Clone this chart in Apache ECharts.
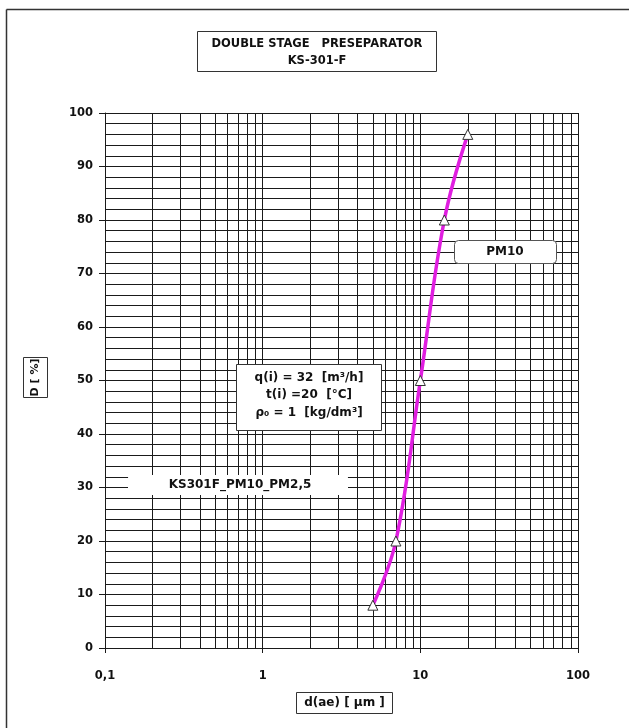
<!DOCTYPE html>
<html><head><meta charset="utf-8">
<script src="https://cdn.jsdelivr.net/npm/echarts@6/dist/echarts.min.js"></script>
<style>html,body{margin:0;padding:0;background:#fff}#c{width:629px;height:728px}</style>
</head><body><div id="c"></div>
<script>
const diameters = [5, 7, 10, 14.2, 20];
const passPct = [8, 20, 50, 80, 96];
const xTickLabels = {0.1: '0,1', 1: '1', 10: '10', 100: '100'};
const minorLogLines = [0.2,0.3,0.4,0.5,0.6,0.7,0.8,0.9,2,3,4,5,6,7,8,9,20,30,40,50,60,70,80,90];
const titleLines = ['DOUBLE STAGE   PRESEPARATOR', 'KS-301-F'];
const paramLines = ['q(i) = 32  [m³/h]', 't(i) =20  [°C]', 'ρ₀ = 1  [kg/dm³]'];
const seriesName = 'PM10';
const fileName = 'KS301F_PM10_PM2,5';

const F = '"DejaVu Sans", Verdana, sans-serif';
const gridColor = '#1a1a1a';
const chart = echarts.init(document.getElementById('c'), null, {renderer: 'canvas'});
chart.setOption({
  animation: false,
  backgroundColor: '#fff',
  grid: {left: 105, right: 51, top: 113, bottom: 80, containLabel: false},
  xAxis: {
    type: 'log', logBase: 10, min: 0.1, max: 100,
    axisLine: {show: false},
    axisTick: {show: true, length: 5, lineStyle: {color: gridColor}},
    axisLabel: {margin: 22, fontFamily: F, fontWeight: 'bold', fontSize: 11.5, color: '#111',
      formatter: v => xTickLabels[Math.round(v*1000)/1000] !== undefined ? xTickLabels[Math.round(v*1000)/1000] : ''},
    splitLine: {show: true, lineStyle: {color: gridColor, width: 1}},
    minorTick: {show: false}
  },
  yAxis: {
    type: 'value', min: 0, max: 100, interval: 10,
    axisLine: {show: true, lineStyle: {color: gridColor, width: 1}},
    axisTick: {show: true, length: 6, lineStyle: {color: gridColor}},
    axisLabel: {margin: 12, fontFamily: F, fontWeight: 'bold', fontSize: 11.5, color: '#111'},
    splitLine: {show: true, lineStyle: {color: gridColor, width: 1}},
    minorTick: {show: false, splitNumber: 5},
    minorSplitLine: {show: true, lineStyle: {color: gridColor, width: 1}}
  },
  series: [{
    name: seriesName,
    type: 'line',
    smooth: 0.4,
    data: diameters.map((d, i) => [d, passPct[i]]),
    lineStyle: {color: '#e01ee0', width: 3.5},
    symbol: 'triangle', symbolSize: 10,
    itemStyle: {color: '#fff', borderColor: '#333', borderWidth: 1},
    z: 5,
    markLine: {
      silent: true, symbol: 'none', label: {show: false},
      lineStyle: {color: gridColor, width: 1, type: 'solid'},
      data: minorLogLines.map(v => ({xAxis: v})),
      z: 1
    }
  }],
  graphic: [
    {type: 'line', shape: {x1: 6.5, y1: 728, x2: 6.5, y2: 9.5}, style: {stroke: '#333', lineWidth: 1.5}},
    {type: 'line', shape: {x1: 6.5, y1: 9.5, x2: 629, y2: 9.5}, style: {stroke: '#333', lineWidth: 1.5}},
    {type: 'rect', shape: {x: 197.5, y: 31.5, width: 239, height: 40}, style: {fill: '#fff', stroke: '#333', lineWidth: 1}},
    {type: 'text', x: 317, y: 44, style: {text: titleLines[0], fontFamily: F, fontWeight: 'bold', fontSize: 11.5, fill: '#111', align: 'center', verticalAlign: 'middle'}},
    {type: 'text', x: 317, y: 61, style: {text: titleLines[1], fontFamily: F, fontWeight: 'bold', fontSize: 11.5, fill: '#111', align: 'center', verticalAlign: 'middle'}},
    {type: 'rect', z: 10, shape: {x: 454.5, y: 240.5, width: 102, height: 23, r: 4}, style: {fill: '#fff', stroke: '#555', lineWidth: 1}},
    {type: 'text', z: 11, x: 505, y: 252, style: {text: seriesName, fontFamily: F, fontWeight: 'bold', fontSize: 12, fill: '#111', align: 'center', verticalAlign: 'middle'}},
    {type: 'rect', z: 10, shape: {x: 236.5, y: 364.5, width: 145, height: 66}, style: {fill: '#fff', stroke: '#333', lineWidth: 1}},
    {type: 'text', z: 11, x: 309, y: 378, style: {text: paramLines[0], fontFamily: F, fontWeight: 'bold', fontSize: 12, fill: '#111', align: 'center', verticalAlign: 'middle'}},
    {type: 'text', z: 11, x: 309, y: 395, style: {text: paramLines[1], fontFamily: F, fontWeight: 'bold', fontSize: 12, fill: '#111', align: 'center', verticalAlign: 'middle'}},
    {type: 'text', z: 11, x: 309, y: 413, style: {text: paramLines[2], fontFamily: F, fontWeight: 'bold', fontSize: 12, fill: '#111', align: 'center', verticalAlign: 'middle'}},
    {type: 'rect', z: 10, shape: {x: 128, y: 475, width: 220, height: 20, r: 3}, style: {fill: '#fff', stroke: 'none'}},
    {type: 'text', z: 11, x: 240, y: 485, style: {text: fileName, fontFamily: F, fontWeight: 'bold', fontSize: 12, fill: '#111', align: 'center', verticalAlign: 'middle'}},
    {type: 'rect', z: 10, shape: {x: 23.5, y: 357.5, width: 24, height: 40}, style: {fill: '#fff', stroke: '#333', lineWidth: 1}},
    {type: 'text', z: 11, x: 35.5, y: 377.5, rotation: Math.PI/2, style: {text: 'D [ %]', fontFamily: F, fontWeight: 'bold', fontSize: 11, fill: '#111', align: 'center', verticalAlign: 'middle'}},
    {type: 'rect', z: 10, shape: {x: 296.5, y: 692.5, width: 96, height: 21}, style: {fill: '#fff', stroke: '#333', lineWidth: 1}},
    {type: 'text', z: 11, x: 344.5, y: 703, style: {text: 'd(ae) [ µm ]', fontFamily: F, fontWeight: 'bold', fontSize: 12, fill: '#111', align: 'center', verticalAlign: 'middle'}}
  ]
});
</script></body></html>
